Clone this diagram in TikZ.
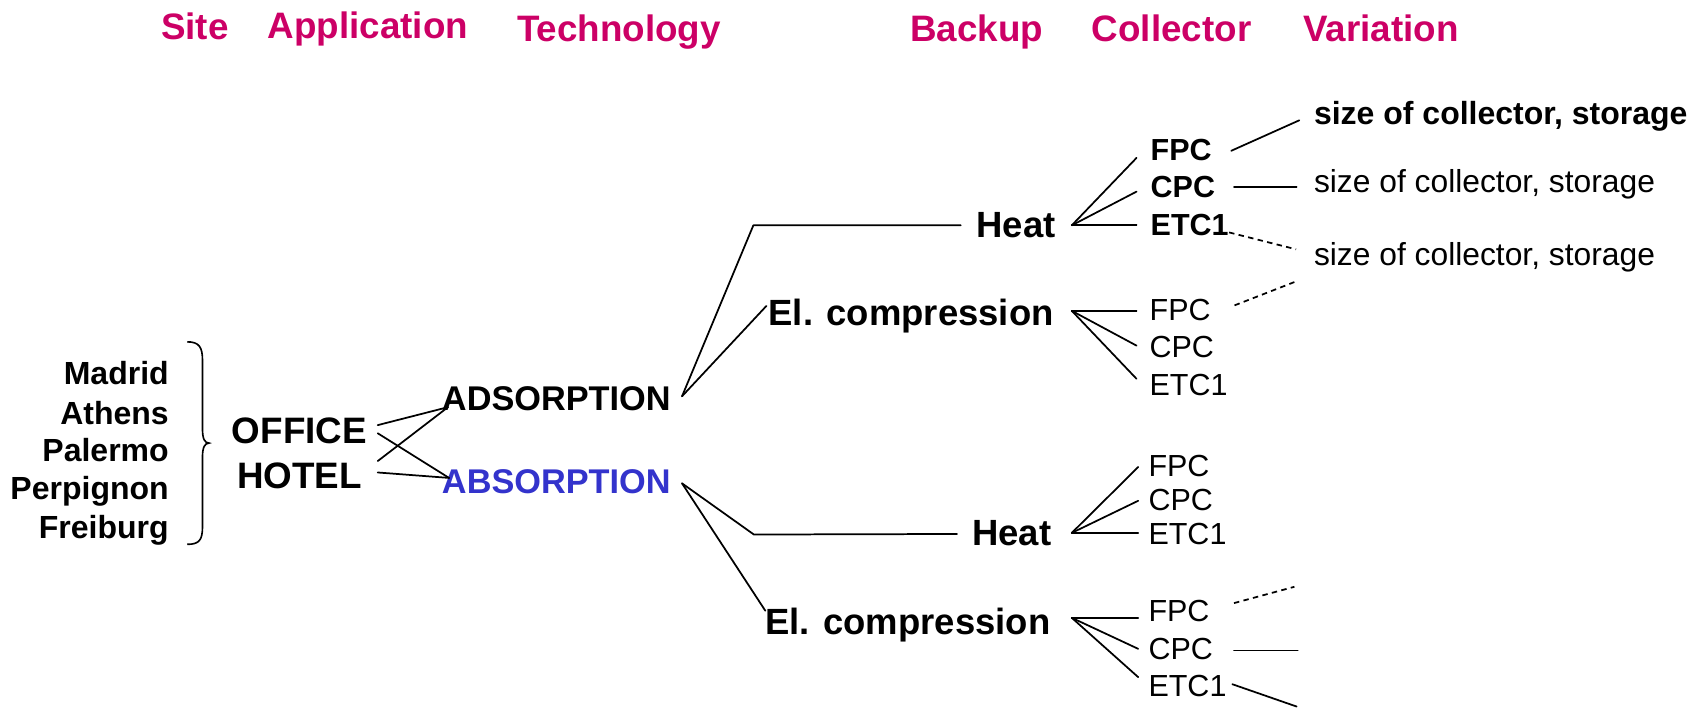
\documentclass[tikz,border=0pt]{standalone}
\usepackage{fontspec}
\setmainfont{Liberation Sans}
\definecolor{headc}{RGB}{204,0,102}
\definecolor{absc}{RGB}{51,51,204}
\begin{document}
\begin{tikzpicture}[x=1pt,y=-1pt,
  every node/.style={inner sep=0pt,outer sep=0pt,text depth=0pt},
  head/.style={anchor=west,text=headc,text height=24pt,font=\bfseries\fontsize{33.8}{40}\selectfont},
  site/.style={anchor=east,text height=21pt,font=\bfseries\fontsize{29.4}{35}\selectfont},
  appl/.style={anchor=center,text height=24pt,font=\bfseries\fontsize{33.8}{40}\selectfont},
  tech/.style={anchor=west,text height=22.5pt,font=\bfseries\fontsize{31.5}{38}\selectfont},
  backup/.style={anchor=west,text height=24pt,font=\bfseries\fontsize{33.5}{40}\selectfont},
  colb/.style={anchor=west,text height=20pt,font=\bfseries\fontsize{28}{34}\selectfont},
  colr/.style={anchor=west,text height=20pt,font=\fontsize{28}{34}\selectfont},
  varb/.style={anchor=west,text height=21pt,font=\bfseries\fontsize{29.4}{35}\selectfont},
  varr/.style={anchor=west,text height=21pt,font=\fontsize{29.2}{35}\selectfont},
  link/.style={line width=1.6pt,line cap=round,line join=round},
  dlink/.style={link,line cap=butt,dash pattern=on 5pt off 4pt}]
\useasboundingbox (0,0) rectangle (1568,650);

% column titles
\node[head] (hSite) at (148,24) {Site};
\node[head] (hApp)  at (246,23) {Application};
\node[head] (hTech) at (475,26) {Technology};
\node[head] (hBack) at (836,26) {Backup};
\node[head] (hColl) at (1003,26) {Collector};
\node[head] (hVar)  at (1197,26) {Variation};

% sites
\node[site] (madrid)    at (155,343) {Madrid};
\node[site] (athens)    at (155,379) {Athens};
\node[site] (palermo)   at (155,413) {Palermo};
\node[site] (perpignon) at (155,448) {Perpignon};
\node[site] (freiburg)  at (155,484) {Freiburg};

% curly brace grouping the sites
\draw[line width=1.5pt] (172,314) .. controls (183,314) and (186,319) .. (186,331)
  -- (186,394) .. controls (186,403) and (188,407) .. (192,407)
  .. controls (188,407) and (186,411) .. (186,420)
  -- (186,484) .. controls (186,496) and (183,500) .. (172,500);

% applications
\node[appl] (office) at (275,395) {OFFICE};
\node[appl] (hotel)  at (275,437) {HOTEL};

% technologies
\node[tech] (ads) at (406,366) {ADSORPTION};
\node[tech,text=absc] (abs) at (406,442) {ABSORPTION};

\coordinate (oA) at (347,390.5);
\coordinate (oB) at (347,398);
\coordinate (hA) at (347,423.5);
\coordinate (hB) at (347,434);
\coordinate (adsIn) at (411.5,374);
\coordinate (absIn) at (412.5,439);
\draw[link] (oA) -- (adsIn);
\draw[link] (oB) -- (absIn);
\draw[link] (hA) -- (adsIn);
\draw[link] (hB) -- (absIn);

% backup systems
\node[backup] (heatA) at (897,206) {Heat};
\node[backup] (elA)   at (706,287) {El. compression};
\node[backup] (heatB) at (893,489) {Heat};
\node[backup] (elB)   at (703,571) {El. compression};

\coordinate (adsOut) at (626.5,364);
\coordinate (kneeA)  at (692,207);
\coordinate (heatAIn) at (882.5,207);
\coordinate (elAIn)  at (704,281);
\draw[link] (adsOut) -- (kneeA) -- (heatAIn);
\draw[link] (adsOut) -- (elAIn);

\coordinate (absOut) at (626.5,444);
\coordinate (kneeB)  at (692.5,491);
\coordinate (heatBIn) at (879,490.5);
\coordinate (elBIn)  at (703,561);
\draw[link] (absOut) -- (kneeB) -- (heatBIn);
\draw[link] (absOut) -- (elBIn);

% collectors behind heat backup (adsorption)
\node[colb] (c1) at (1057,137) {FPC};
\node[colb] (c2) at (1057,171) {CPC};
\node[colb] (c3) at (1057,206) {ETC1};
\coordinate (f1) at (984.5,207);
\draw[link] (f1) -- (1044,145);
\draw[link] (f1) -- (1044,176);
\draw[link] (f1) -- (1044,207);

% collectors behind electric compression backup (adsorption)
\node[colr] (c4) at (1056,284) {FPC};
\node[colr] (c5) at (1056,318) {CPC};
\node[colr] (c6) at (1056,353) {ETC1};
\coordinate (f2) at (984.5,285.5);
\draw[link] (f2) -- (1044,285.5);
\draw[link] (f2) -- (1044,317.5);
\draw[link] (f2) -- (1044,348);

% collectors behind heat backup (absorption)
\node[colr] (c7) at (1055,428) {FPC};
\node[colr] (c8) at (1055,459) {CPC};
\node[colr] (c9) at (1055,490) {ETC1};
\coordinate (f3) at (984.5,489.5);
\draw[link] (f3) -- (1045.5,429);
\draw[link] (f3) -- (1045.5,460);
\draw[link] (f3) -- (1045.5,489.5);

% collectors behind electric compression backup (absorption)
\node[colr] (c10) at (1055,561) {FPC};
\node[colr] (c11) at (1055,596) {CPC};
\node[colr] (c12) at (1055,630) {ETC1};
\coordinate (f4) at (984.5,567.5);
\draw[link] (f4) -- (1045.5,567.5);
\draw[link] (f4) -- (1045.5,596);
\draw[link] (f4) -- (1045.5,622);

% variations
\node[varb] (v1) at (1207,104) {size of collector, storage};
\node[varr] (v2) at (1207,166) {size of collector, storage};
\node[varr] (v3) at (1207,233) {size of collector, storage};

\draw[link] (1131,138.5) -- (1193.5,110.5);
\draw[link] (1133.5,172) -- (1191,172);
\draw[dlink] (1129,213.5) -- (1190.5,229);
\draw[dlink] (1134,280.5) -- (1190.5,258.5);

% open variation branches (absorption, electric compression)
\coordinate (e1) at (1189,539);
\coordinate (e2) at (1192,597.5);
\coordinate (e3) at (1191,649);
\draw[dlink] (1133.5,554) -- (e1);
\draw[link] (1133.5,597.5) -- (e2);
\draw[link] (1132,628.5) -- (e3);
\end{tikzpicture}
\end{document}
